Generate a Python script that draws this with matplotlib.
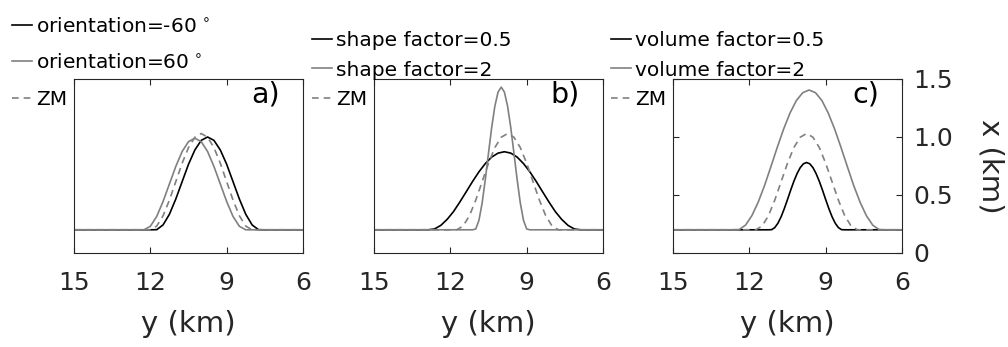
import matplotlib
matplotlib.use('Agg')
import matplotlib.pyplot as plt

plt.rcParams['font.family'] = ['DejaVu Sans']
plt.rcParams['mathtext.fontset'] = 'dejavusans'

# ---- panel a: orientation ----
ya_black = [15, 12.25, 12.0, 11.75, 11.5, 11.25, 11.0, 10.75, 10.5, 10.25, 10.0, 9.75,
            9.5, 9.25, 9.0, 8.75, 8.5, 8.25, 8.0, 7.75, 7.5, 7.25, 6]
xa_black = [0.2, 0.2, 0.2, 0.201, 0.242, 0.334, 0.465, 0.615, 0.765, 0.888, 0.971, 1.0,
            0.971, 0.888, 0.765, 0.615, 0.465, 0.334, 0.242, 0.201, 0.2, 0.2, 0.2]
ya_gray = [15, 12.5, 12.25, 12.0, 11.75, 11.5, 11.25, 11.0, 10.75, 10.5, 10.25, 10.0,
           9.75, 9.5, 9.25, 9.0, 8.75, 8.5, 8.25, 8.0, 6]
xa_gray = [0.2, 0.2, 0.2, 0.230, 0.315, 0.444, 0.595, 0.746, 0.875, 0.960, 0.99, 0.960,
           0.875, 0.746, 0.595, 0.444, 0.315, 0.230, 0.2, 0.2, 0.2]
ya_zm = [15, 12.25, 12.0, 11.75, 11.5, 11.25, 11.0, 10.75, 10.5, 10.25, 10.0, 9.75,
         9.5, 9.25, 9.0, 8.75, 8.5, 8.25, 8.0, 7.75, 6]
xa_zm = [0.2, 0.2, 0.2, 0.232, 0.321, 0.456, 0.615, 0.774, 0.909, 0.998, 1.03, 0.998,
         0.909, 0.774, 0.615, 0.456, 0.321, 0.232, 0.2, 0.2, 0.2]

# ---- panel b: shape factor ----
yb_black = [15, 12.875, 12.625, 12.375, 12.125, 11.875, 11.625, 11.375, 11.125, 10.875,
            10.625, 10.375, 10.125, 9.875, 9.625, 9.375, 9.125, 8.875, 8.625, 8.375,
            8.125, 7.875, 7.625, 7.375, 7.125, 6.875, 6]
xb_black = [0.2, 0.2, 0.207, 0.238, 0.290, 0.357, 0.440, 0.528, 0.617, 0.700, 0.771,
            0.827, 0.861, 0.873, 0.861, 0.827, 0.771, 0.700, 0.617, 0.528, 0.440,
            0.357, 0.290, 0.238, 0.207, 0.2, 0.2]
yb_gray = [15, 11.25, 11.125, 11.0, 10.875, 10.75, 10.625, 10.5, 10.375, 10.25, 10.125,
           10.0, 9.875, 9.75, 9.625, 9.5, 9.375, 9.25, 9.125, 9.0, 8.875, 8.75, 6]
xb_gray = [0.2, 0.2, 0.2, 0.207, 0.282, 0.431, 0.634, 0.861, 1.082, 1.266, 1.387,
           1.43, 1.387, 1.266, 1.082, 0.861, 0.634, 0.431, 0.282, 0.207, 0.2, 0.2, 0.2]
# ZM reference profile used in panels b and c
y_zm = [15, 12.0, 11.75, 11.5, 11.25, 11.0, 10.75, 10.5, 10.25, 10.0, 9.75, 9.5,
        9.25, 9.0, 8.75, 8.5, 8.25, 8.0, 7.75, 7.5, 6]
x_zm = [0.2, 0.2, 0.2, 0.232, 0.321, 0.456, 0.615, 0.774, 0.909, 0.998, 1.03, 0.998,
        0.909, 0.774, 0.615, 0.456, 0.321, 0.232, 0.2, 0.2, 0.2]

# ---- panel c: volume factor ----
yc_black = [15, 11.375, 11.25, 11.125, 11.0, 10.875, 10.75, 10.625, 10.5, 10.375, 10.25,
            10.125, 10.0, 9.875, 9.75, 9.625, 9.5, 9.375, 9.25, 9.125, 9.0, 8.875,
            8.75, 8.625, 8.5, 8.375, 8.25, 8.125, 6]
xc_black = [0.2, 0.2, 0.2, 0.201, 0.219, 0.257, 0.313, 0.383, 0.461, 0.542, 0.618,
            0.684, 0.736, 0.769, 0.78, 0.769, 0.736, 0.684, 0.618, 0.542, 0.461, 0.383,
            0.313, 0.257, 0.219, 0.201, 0.2, 0.2, 0.2]
yc_gray = [15, 12.65, 12.4, 12.15, 11.9, 11.65, 11.4, 11.15, 10.9, 10.65, 10.4, 10.15,
           9.9, 9.65, 9.4, 9.15, 8.9, 8.65, 8.4, 8.15, 7.9, 7.65, 7.4, 7.15, 6.9, 6.65, 6]
xc_gray = [0.2, 0.2, 0.202, 0.240, 0.322, 0.439, 0.583, 0.746, 0.912, 1.070, 1.207,
           1.315, 1.382, 1.405, 1.382, 1.315, 1.207, 1.070, 0.912, 0.746, 0.583, 0.439,
           0.322, 0.240, 0.202, 0.2, 0.2]

panels = [
    ('a)', (ya_black, xa_black, 'orientation=-60$^{\\,\\circ}$'),
           (ya_gray, xa_gray, 'orientation=60$^{\\,\\circ}$'), (ya_zm, xa_zm), 0.85),
    ('b)', (yb_black, xb_black, 'shape factor=0.5'),
           (yb_gray, xb_gray, 'shape factor=2'), (y_zm, x_zm), 0.5),
    ('c)', (yc_black, xc_black, 'volume factor=0.5'),
           (yc_gray, xc_gray, 'volume factor=2'), (y_zm, x_zm), 0.5),
]

xticks = [15, 12, 9, 6]
yticks = [0, 0.5, 1.0, 1.5]
ytick_labels = ['0', '0.5', '1.0', '1.5']

GRAY = '#808080'
AXC = '#262626'
W, H = 1008, 347
fig = plt.figure(figsize=(W / 100, H / 100), dpi=100)

lefts = [74, 374, 673]
for i, (tag, blk, gry, zm, lsp) in enumerate(panels):
    ax = fig.add_axes([lefts[i] / W, 94 / H, 229 / W, 174 / H])
    ax.plot(blk[0], blk[1], color='black', lw=1.2, label=blk[2])
    ax.plot(gry[0], gry[1], color=GRAY, lw=1.2, label=gry[2])
    ax.plot(zm[0], zm[1], color=GRAY, lw=1.2, ls=(0, (4, 3)), label='ZM')
    ax.set_xlim(15, 6)
    ax.set_ylim(0, 1.5)
    ax.set_xticks(xticks)
    ax.tick_params(axis='x', direction='in', top=True, length=4, width=0.8,
                   colors=AXC, labelsize=18, pad=13)
    if i == 2:
        ax.set_yticks(yticks)
        ax.set_yticklabels(ytick_labels)
        ax.tick_params(axis='y', direction='in', left=True, right=True,
                       labelleft=False, labelright=True, length=4, width=0.8,
                       colors=AXC, labelsize=18, pad=8)
        ax.yaxis.set_label_position('right')
        ax.set_ylabel('x (km)', fontsize=21, rotation=-90, color=AXC, labelpad=37)
    else:
        ax.set_yticks([])
    for sp in ax.spines.values():
        sp.set_color(AXC)
        sp.set_linewidth(0.8)
    ax.set_xlabel('y (km)', fontsize=21, color=AXC, labelpad=11)
    ax.text(6.9, 1.37, tag, ha='right', va='center', fontsize=20.5, color='black')
    ax.legend(loc='lower left', bbox_to_anchor=(-62 / 229, 0.83), frameon=False,
              fontsize=14.5, handlelength=1.0, handletextpad=0.2, borderpad=0,
              borderaxespad=0, labelspacing=lsp)

fig.savefig('out.png', dpi=100)
